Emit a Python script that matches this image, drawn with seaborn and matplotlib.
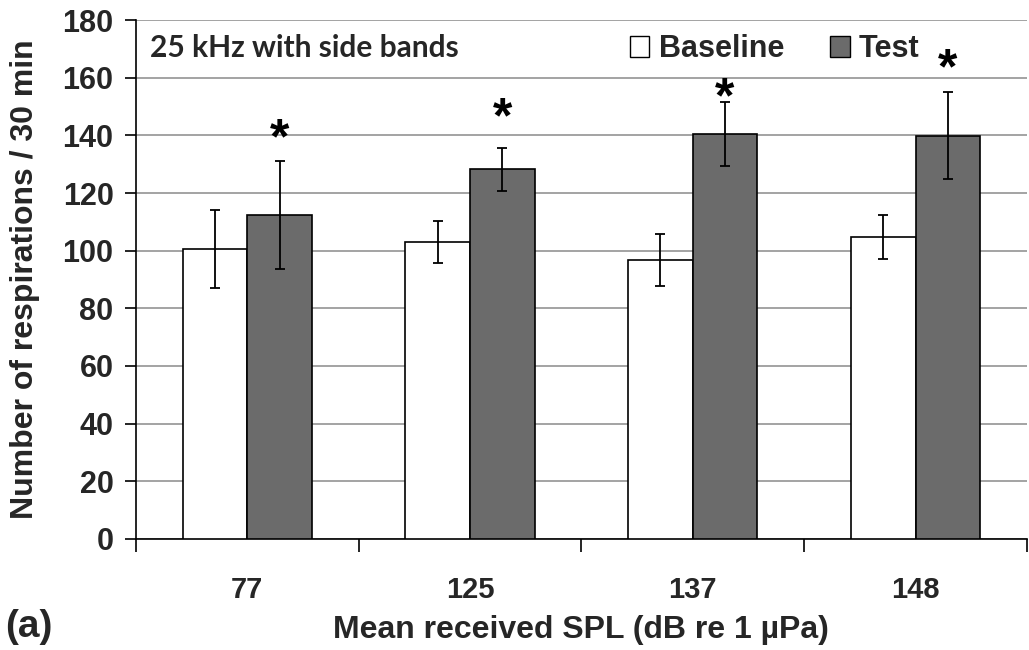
import matplotlib
matplotlib.use("Agg")
import matplotlib.pyplot as plt
import seaborn as sns
import pandas as pd
import numpy as np
from matplotlib.patches import Patch

categories = ["77", "125", "137", "148"]
baseline = [100.6, 103.1, 96.8, 104.8]
baseline_err = [13.6, 7.3, 9.0, 7.7]
test = [112.3, 128.3, 140.5, 139.9]
test_err = [18.8, 7.5, 11.0, 15.1]
significant = ["*", "*", "*", "*"]
star_level = [141.3, 148.8, 155.7, 165.6]

sns.set_theme(style="white")
plt.rcParams['font.family'] = ['Liberation Sans', 'DejaVu Sans']

df = pd.DataFrame({
    "SPL": categories * 2,
    "Condition": ["Baseline"] * 4 + ["Test"] * 4,
    "Value": baseline + test,
})

fig = plt.figure(figsize=(10.29, 6.5), dpi=100)
ax = fig.add_axes([0.132, 0.171, 0.866, 0.798])

sns.barplot(data=df, x="SPL", y="Value", hue="Condition", order=categories,
            hue_order=["Baseline", "Test"], palette={"Baseline": "white", "Test": "#6b6b6b"},
            width=0.58, edgecolor="black", linewidth=1.2, errorbar=None, ax=ax, legend=False,
            zorder=3)

conts = ax.containers
for i, (cont, vals, errs) in enumerate(zip(conts, [baseline, test], [baseline_err, test_err])):
    xs = [p.get_x() + p.get_width() / 2 for p in cont.patches]
    ax.errorbar(xs, vals, yerr=errs, fmt="none", ecolor="black", elinewidth=1.3,
                capsize=3.5, capthick=1.3, zorder=4)
    if i == 1:
        for x, lv, s in zip(xs, star_level, significant):
            ax.annotate(s, (x, lv), xytext=(0, -6.5), textcoords="offset points",
                        ha="center", va="center", fontsize=36, fontweight="bold",
                        color="black")

ax.set_ylim(0, 180)
ax.set_xlim(-0.5, 3.5)
ax.set_yticks(np.arange(0, 181, 20))
ax.yaxis.grid(True, color="#8a8a8a", linewidth=1.1, zorder=0)
ax.set_axisbelow(True)
for s in ["top", "right"]:
    ax.spines[s].set_visible(False)
ax.spines["left"].set_color("black")
ax.spines["bottom"].set_color("black")
ax.spines["left"].set_linewidth(1.2)
ax.spines["bottom"].set_linewidth(1.2)

ax.tick_params(axis="y", which="major", length=8, width=1.2, color="black",
               direction="out", left=True, labelsize=22, pad=8)
ax.set_yticklabels([str(v) for v in range(0, 181, 20)], fontweight="bold")
ax.set_xticks(np.arange(len(categories)))
ax.set_xticklabels(categories, fontweight="bold", fontsize=21)
ax.tick_params(axis="x", which="major", length=0, pad=27)
ax.set_xticks(np.arange(-0.5, len(categories) + 0.5, 1.0), minor=True)
ax.tick_params(axis="x", which="minor", length=9, width=1.2, color="black",
               direction="out", bottom=True)

ax.set_xlabel("Mean received SPL (dB re 1 \u00b5Pa)", fontsize=23, fontweight="bold", labelpad=8)
ax.set_ylabel("Number of respirations / 30 min", fontsize=23, fontweight="bold", labelpad=16)

ax.text(0.016, 0.946, "25 kHz with side bands", transform=ax.transAxes, ha="left",
        va="center", fontsize=21.5, fontweight="bold", family=["Lato", "DejaVu Sans"])

handles = [Patch(facecolor="white", edgecolor="black", linewidth=1.0, label="Baseline"),
           Patch(facecolor="#6b6b6b", edgecolor="black", linewidth=1.0, label="Test")]
ax.legend(handles=handles, loc="center left", bbox_to_anchor=(0.554, 0.944), ncol=2,
          frameon=False, handlelength=0.65, handleheight=0.65, handletextpad=0.3,
          columnspacing=1.5, borderpad=0, borderaxespad=0,
          prop={"size": 22, "weight": "bold"})

fig.text(0.005, 0.008, "(a)", fontsize=28, fontweight="bold", ha="left", va="bottom")

fig.savefig("out.png", dpi=100)
